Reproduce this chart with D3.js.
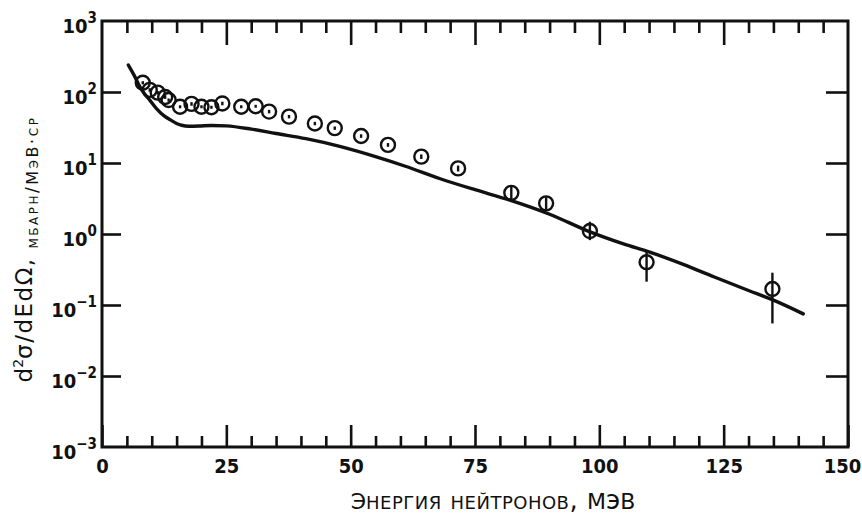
<!DOCTYPE html>
<html><head><meta charset="utf-8">
<script src="https://cdn.jsdelivr.net/npm/d3@7"></script>
<style>
body{margin:0;background:#fff;}
svg text{font-family:"DejaVu Sans Condensed","DejaVu Sans",sans-serif;fill:#111;}
</style></head><body>
<svg id="c" width="862" height="519"></svg>
<script>
// ---- data ----
const energy = [8.2, 9.6, 11.2, 12.7, 13.4, 15.7, 18.0, 20.0, 22.0, 24.2, 28.0, 30.9, 33.6, 37.6, 42.8, 46.8, 52.1, 57.5, 64.2, 71.6, 82.3, 89.3, 98.1, 109.5, 134.8];
const sigma  = [135, 107, 98, 85, 77, 62, 68, 62, 61, 69, 62, 63, 53, 45, 36, 31, 24, 18, 12.3, 8.4, 3.8, 2.7, 1.10, 0.40, 0.168];
const errLow = [128, 101, 93, 80, 73, 59, 64, 59, 58, 65, 59, 60, 50, 42.5, 34, 29.3, 22.6, 16.9, 11.4, 7.6, 3.1, 2.2, 0.82, 0.213, 0.055];
const errHigh= [142, 113, 103, 90, 81, 65, 72, 65, 64, 73, 65, 66, 56, 47.5, 38, 32.7, 25.4, 19.1, 13.2, 9.2, 4.6, 3.3, 1.49, 0.595, 0.285];

const curveE = [5.3, 6.5, 7.6, 8.5, 9.6, 11, 12.5, 14, 15, 16, 17.5, 19.5, 22, 25, 30, 35, 41, 48, 55, 61, 68, 75, 82, 90, 98, 105, 110, 117, 123, 130, 135, 141];
const curveV = [240, 170, 119, 95, 77, 58, 46, 39.5, 36, 34, 33, 33.2, 33.8, 33.3, 30, 26, 22, 17, 12.3, 9, 6, 4.2, 3.0, 1.9, 1.08, 0.72, 0.56, 0.37, 0.25, 0.16, 0.117, 0.075];

const xMajorTicks = [0, 25, 50, 75, 100, 125, 150];
const xMinorTicks = [5,10,15,20,30,35,40,45,55,60,65,70,80,85,90,95,105,110,115,120,130,135,140,145];
const yExponents = [-3, -2, -1, 0, 1, 2, 3];
const yExpLabels = ["−3", "−2", "−1", "0", "1", "2", "3"];
const xTitleParts = ["Э", "нергия нейтронов, ", "М", "э", "В"];
const yTitleMain = ["d", "2", "σ/dEdΩ, "];
const yTitleUnits = ["мбарн/", "М", "э", "В", "·ср"];

// ---- layout ----
const svg = d3.select("#c");
const x = d3.scaleLinear().domain([0, 150]).range([102, 848]);
const y = d3.scaleLog().domain([1e-3, 1e3]).range([447, 21]);
const yTickVals = yExponents.map(e => Math.pow(10, e));

const ink = "#111";
const fam = '"DejaVu Sans Condensed","DejaVu Sans",sans-serif';

// frame
svg.append("rect")
  .attr("x", x(0)).attr("y", y(1e3))
  .attr("width", x(150) - x(0)).attr("height", y(1e-3) - y(1e3))
  .attr("fill", "none").attr("stroke", ink).attr("stroke-width", 3);

function styleAxis(g) {
  g.select(".domain").remove();
  g.selectAll(".tick line").attr("stroke", ink).attr("stroke-width", 2.6);
}

// bottom
svg.append("g").attr("transform", `translate(0,${y(1e-3)})`)
  .call(d3.axisBottom(x).tickValues(xMinorTicks).tickSize(-11).tickFormat(""))
  .call(styleAxis);
const bottomMajor = svg.append("g").attr("transform", `translate(0,${y(1e-3)})`)
  .call(d3.axisBottom(x).tickValues(xMajorTicks).tickSize(-22).tickPadding(12).tickFormat(d3.format("d")))
  .call(styleAxis);
bottomMajor.selectAll(".tick text")
  .attr("font-size", 20).attr("font-weight", "bold").attr("fill", ink)
  .attr("dx", d => d === 150 ? -6 : 0)
  .style("font-family", fam);

// top
svg.append("g").attr("transform", `translate(0,${y(1e3)})`)
  .call(d3.axisTop(x).tickValues(xMinorTicks).tickSize(-12).tickFormat(""))
  .call(styleAxis);
svg.append("g").attr("transform", `translate(0,${y(1e3)})`)
  .call(d3.axisTop(x).tickValues(xMajorTicks.filter(v => v > 0 && v < 150)).tickSize(-24).tickFormat(""))
  .call(styleAxis);

// left
svg.append("g").attr("transform", `translate(${x(0)},0)`)
  .call(d3.axisLeft(y).tickValues(yTickVals.slice(1, -1)).tickSize(-19).tickFormat(""))
  .call(styleAxis);
// right
svg.append("g").attr("transform", `translate(${x(150)},0)`)
  .call(d3.axisRight(y).tickValues(yTickVals.slice(1, -1)).tickSize(-22).tickFormat(""))
  .call(styleAxis);

// y tick labels 10^n
const yl = svg.append("g").selectAll("text").data(yExponents).join("text")
  .attr("x", x(0) - 5)
  .attr("y", (e) => y(Math.pow(10, e)) + 12)
  .attr("text-anchor", "end")
  .attr("font-weight", "bold")
  .attr("font-size", 20);
yl.append("tspan").text("10");
yl.append("tspan").attr("dy", -10).attr("font-size", 15).text((e, i) => yExpLabels[i]);

// theory curve
const line = d3.line().x((d, i) => x(curveE[i])).y((d, i) => y(curveV[i])).curve(d3.curveMonotoneX);
svg.append("path").datum(curveE).attr("d", line)
  .attr("fill", "none").attr("stroke", ink).attr("stroke-width", 3.4).attr("stroke-linecap", "round");

// error bars
svg.append("g").selectAll("line").data(energy).join("line")
  .attr("x1", d => x(d)).attr("x2", d => x(d))
  .attr("y1", (d, i) => y(errHigh[i])).attr("y2", (d, i) => y(errLow[i]))
  .attr("stroke", ink).attr("stroke-width", 2.4);

// data points
svg.append("g").selectAll("circle").data(energy).join("circle")
  .attr("cx", d => x(d)).attr("cy", (d, i) => y(sigma[i])).attr("r", 7)
  .attr("fill", "none").attr("stroke", ink).attr("stroke-width", 2.4);

// x title
const xt = svg.append("text")
  .attr("x", 493).attr("y", 509)
  .attr("text-anchor", "middle")
  .style("font-family", '"DejaVu Sans",sans-serif')
  .attr("font-size", 26);
xt.append("tspan").attr("font-size", 22).text(xTitleParts[0]);
xt.append("tspan").style("font-variant", "small-caps").attr("letter-spacing", 0.5).text(xTitleParts[1]);
xt.append("tspan").attr("font-size", 22).text(xTitleParts[2]);
xt.append("tspan").text(xTitleParts[3]);
xt.append("tspan").attr("font-size", 22).text(xTitleParts[4]);

// y title
const yt = svg.append("text")
  .attr("transform", "translate(32,249) rotate(-90)")
  .attr("text-anchor", "middle")
  .style("font-family", '"DejaVu Sans",sans-serif')
  .attr("font-size", 23);
yt.append("tspan").text(yTitleMain[0]);
yt.append("tspan").attr("dy", -9).attr("font-size", 14).text(yTitleMain[1]);
yt.append("tspan").attr("dy", 9).attr("letter-spacing", 1.5).text(yTitleMain[2]);
const ls = 2.5;
yt.append("tspan").attr("dy", 6).attr("font-size", 17).style("font-variant", "small-caps").attr("letter-spacing", ls).text(yTitleUnits[0]);
yt.append("tspan").attr("font-size", 16).attr("letter-spacing", ls).text(yTitleUnits[1]);
yt.append("tspan").attr("font-size", 17).style("font-variant", "small-caps").attr("letter-spacing", ls).text(yTitleUnits[2]);
yt.append("tspan").attr("font-size", 16).attr("letter-spacing", ls).text(yTitleUnits[3]);
yt.append("tspan").attr("font-size", 17).style("font-variant", "small-caps").attr("letter-spacing", ls).text(yTitleUnits[4]);
</script></body></html>
